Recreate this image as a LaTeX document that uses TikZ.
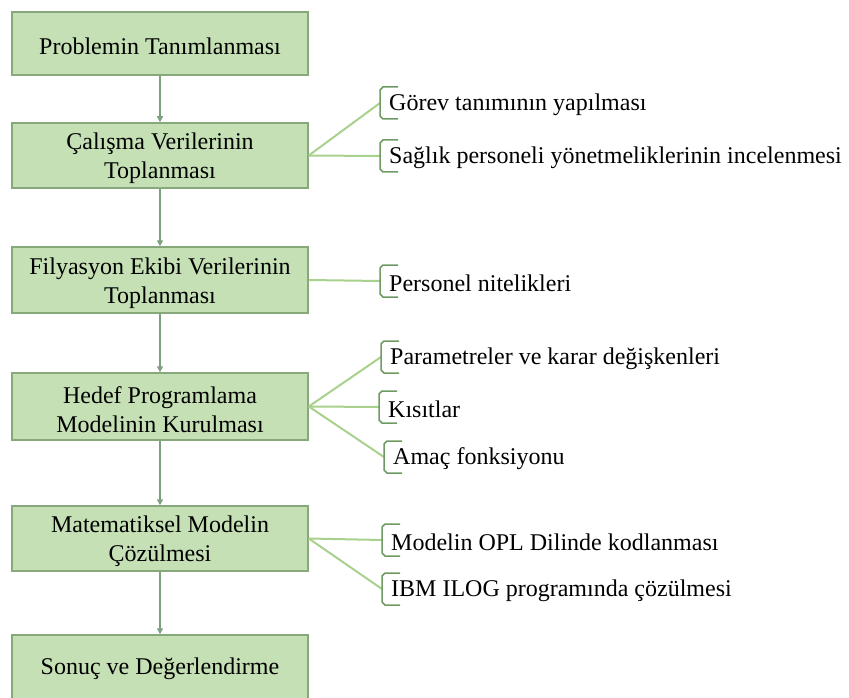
\documentclass[tikz,border=0pt]{standalone}
\usepackage{fontspec}
\setmainfont{Liberation Serif}
\usetikzlibrary{arrows.meta,positioning,calc}
\definecolor{boxfill}{HTML}{C5E0B4}
\definecolor{boxdraw}{HTML}{86A87A}
\definecolor{arrowc}{HTML}{7FA07F}
\definecolor{fanc}{HTML}{A9D18E}
\definecolor{brkc}{HTML}{6E9B62}
\newcommand\mybrk[1]{\draw[brk] ($(#1)+(18,-16)$) -- ($(#1)+(3,-16)$) -- ($(#1)+(0,-13)$) -- ($(#1)+(0,13)$) -- ($(#1)+(3,16)$) -- ($(#1)+(18,16)$);}
\begin{document}
\begin{tikzpicture}[x=1pt,y=-1pt,
  stepbox/.style={draw=boxdraw,fill=boxfill,line width=1.5pt,minimum width=296pt,minimum height=65pt,inner sep=0pt},
  boxtext/.style={inner sep=0pt,align=center,font=\fontsize{24}{29}\selectfont},
  item/.style={inner sep=0pt,anchor=west,font=\fontsize{24}{28}\selectfont},
  flow/.style={draw=arrowc,line width=2pt,-{Triangle[width=6pt,length=6pt]}},
  fan/.style={draw=fanc,line width=2pt},
  brk/.style={draw=brkc,line width=1.5pt}]
\useasboundingbox (0,0) rectangle (849,698);
\node[stepbox,minimum height=63pt] (b1) at (160,43.5) {};
\node[stepbox] (b2) at (160,155.5) {};
\node[stepbox,minimum height=66pt] (b3) at (160,280) {};
\node[stepbox,minimum height=67pt] (b4) at (160,406.5) {};
\node[stepbox] (b5) at (160,538.5) {};
\node[stepbox,minimum height=64pt] (b6) at (160,667) {};
\node[boxtext] (l1) at ($(b1)+(0,3)$) {Problemin Tanımlanması};
\node[boxtext] (l2) at ($(b2)+(0,3)$) {Çalışma Verilerinin\\Toplanması};
\node[boxtext] (l3) at ($(b3)+(0,3)$) {Filyasyon Ekibi Verilerinin\\Toplanması};
\node[boxtext] (l4) at ($(b4)+(0,3)$) {Hedef Programlama\\Modelinin Kurulması};
\node[boxtext] (l5) at ($(b5)+(0,3)$) {Matematiksel Modelin\\Çözülmesi};
\node[boxtext] (l6) at ($(b6)+(0,2)$) {Sonuç ve Değerlendirme};
\draw[flow] (b1) -- (b2);
\draw[flow] (b2) -- (b3);
\draw[flow] (b3) -- (b4);
\draw[flow] (b4) -- (b5);
\draw[flow] (b5) -- (b6);
\coordinate (c21) at (380,103);
\coordinate (c22) at (380,156);
\coordinate (c31) at (380,281);
\coordinate (c41) at (381,357);
\coordinate (c42) at (379,407);
\coordinate (c43) at (384,457);
\coordinate (c51) at (382,540);
\coordinate (c52) at (382,589);
\draw[fan] (b2.east) -- (c21);
\draw[fan] (b2.east) -- (c22);
\draw[fan] (b3.east) -- (c31);
\draw[fan] (b4.east) -- (c41);
\draw[fan] (b4.east) -- (c42);
\draw[fan] (b4.east) -- (c43);
\draw[fan] (b5.east) -- (c51);
\draw[fan] (b5.east) -- (c52);
\foreach \c in {c21,c22,c31,c41,c42,c43,c51,c52} {\mybrk{\c}}
\node[item,right=9pt of c21,yshift=-2pt] (t21) {Görev tanımının yapılması};
\node[item,right=9pt of c22,yshift=-2pt] (t22) {Sağlık personeli yönetmeliklerinin incelenmesi};
\node[item,right=9pt of c31,yshift=-2pt] (t31) {Personel nitelikleri};
\node[item,right=9pt of c41,yshift=-2pt] (t41) {Parametreler ve karar değişkenleri};
\node[item,right=9pt of c42,yshift=-2pt] (t42) {Kısıtlar};
\node[item,right=9pt of c43,yshift=-2pt] (t43) {Amaç fonksiyonu};
\node[item,right=9pt of c51,yshift=-2pt] (t51) {Modelin OPL Dilinde kodlanması};
\node[item,right=9pt of c52,yshift=-2pt] (t52) {IBM ILOG programında çözülmesi};
\end{tikzpicture}
\end{document}
